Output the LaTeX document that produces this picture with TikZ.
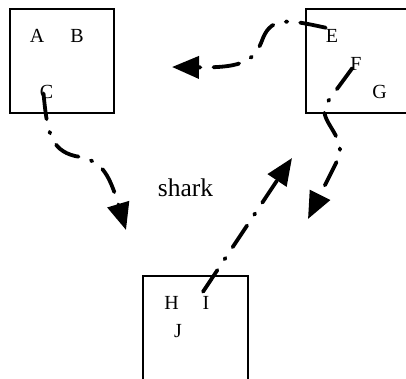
\documentclass[tikz,border=0pt]{standalone}
\usepackage{fontspec}
\setmainfont{Liberation Serif}
\usetikzlibrary{arrows.meta,positioning}

\begin{document}
\begin{tikzpicture}[
    x=1pt,y=-1pt,
    letter/.style={font=\fontsize{20}{20}\selectfont,inner sep=0pt,anchor=base},
    frame/.style={draw,line width=1.4pt},
    flow/.style={line width=3.8pt,line cap=round,dash pattern=on 26pt off 13pt on 1.5pt off 13pt,-{Triangle[length=27pt,width=22pt]}}
  ]
    \useasboundingbox (0,0) rectangle (406,378);
    \clip (0,0) rectangle (406,378);
    % boxes
    \draw[frame] (10,9) rectangle (114,113);
    \draw[frame] (306,9) rectangle (420,113);
    \draw[frame] (143,276) rectangle (248,400);
    % labels
    \node[letter] (a) at (37,42) {A};
    \node[letter] (b) at (77,42) {B};
    \node[letter] (c) at (46.5,98) {C};
    \node[letter] (e) at (332,42) {E};
    \node[letter] (f) at (356,70) {F};
    \node[letter] (g) at (379.5,98) {G};
    \node[letter] (h) at (171.5,309) {H};
    \node[letter] (i) at (206,309) {I};
    \node[letter] (j) at (178,337) {J};
    \node[letter,font=\fontsize{25.5}{25.5}\selectfont] (shark) at (185.5,196) {shark};
    % arrow ends
    \coordinate (toleft) at (172,67);
    \coordinate (todown) at (126,230);
    \coordinate (toright) at (308,219);
    \coordinate (toup) at (292,158);
    % flows
    \draw[flow] ([shift={(0,-1)}]e.north west) .. controls (290,20) and (272,16) .. (263,38)
        .. controls (255,60) and (245,68) .. (toleft);
    \draw[flow] ([shift={(-3,-5)}]c.south) .. controls (47,130) and (50,150) .. (75,156)
        .. controls (100,160) and (108,170) .. (todown);
    \draw[flow] ([shift={(2,-2)}]f.south west) -- (326,104) .. controls (318,120) and (342,132) .. (340,155)
        -- (toright);
    \draw[flow] ([shift={(-3,-4)}]i.north) -- (toup);
\end{tikzpicture}
\end{document}
